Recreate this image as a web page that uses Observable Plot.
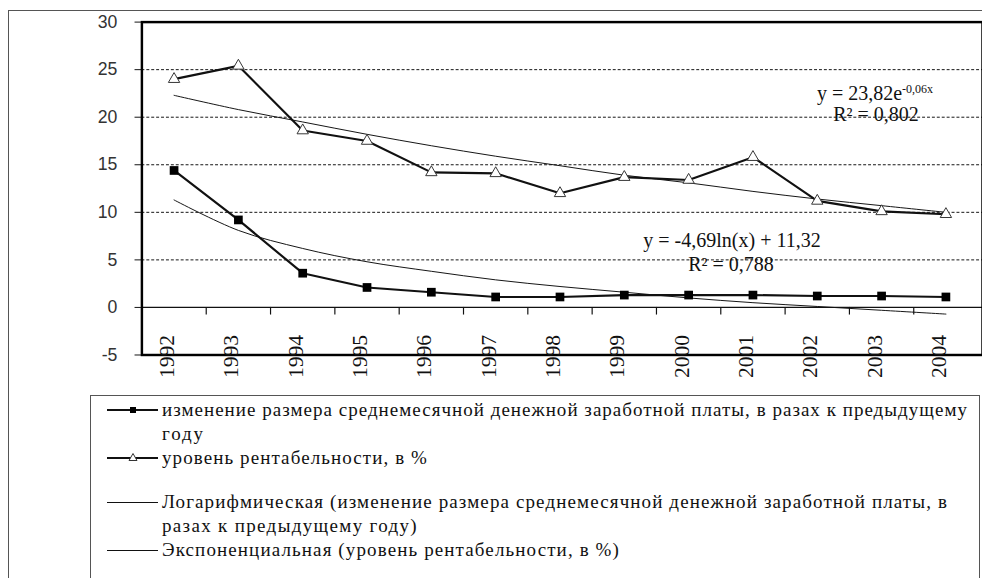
<!DOCTYPE html>
<html>
<head>
<meta charset="utf-8">
<script src="https://cdn.jsdelivr.net/npm/d3@7"></script>
<script src="https://cdn.jsdelivr.net/npm/@observablehq/plot@0.6"></script>
<style>
  html, body { margin: 0; padding: 0; background: #fff; overflow: hidden; }
  #wrap { position: relative; width: 982px; height: 578px; overflow: hidden; background: #fff; }
  #outer { position: absolute; left: 8px; top: 10px; width: 1100px; height: 700px; border: 1.5px solid #555; box-sizing: border-box; }
  #chart { position: absolute; left: 0; top: 0; }
  .ann { position: absolute; font-family: "Liberation Serif", "DejaVu Serif", "Times New Roman", serif; font-size: 20px; color: #111; white-space: nowrap; transform: translate(-50%, -50%); line-height: 20px; }
  .ann sup { font-size: 12px; vertical-align: 7px; line-height: 0; }
  #legend { position: absolute; left: 90px; top: 395px; width: 890px; height: 300px; border: 1.5px solid #555; box-sizing: border-box; }
  .lt { position: absolute; font-family: "Liberation Serif", "DejaVu Serif", "Times New Roman", serif; font-size: 19px; color: #111; white-space: nowrap; line-height: 18px; }
  .swl { position: absolute; left: 16px; width: 51px; background: #111; }
  .sw { position: absolute; display: block; }
</style>
</head>
<body>
<div id="wrap">
  <div id="outer"></div>
  <div id="chart"></div>
  <div class="ann" style="left:875px; top:93px;">y = 23,82e<sup>-0,06x</sup></div>
  <div class="ann" style="left:876px; top:114px;">R² = 0,802</div>
  <div class="ann" style="left:732px; top:240px;">y = -4,69ln(x) + 11,32</div>
  <div class="ann" style="left:731px; top:264px;">R² = 0,788</div>
  <div id="legend"></div>
</div>
<script>
const years = [1992, 1993, 1994, 1995, 1996, 1997, 1998, 1999, 2000, 2001, 2002, 2003, 2004];
const wageChange = [14.4, 9.2, 3.6, 2.1, 1.6, 1.1, 1.1, 1.3, 1.3, 1.3, 1.2, 1.2, 1.1];
const profitability = [24.0, 25.4, 18.6, 17.5, 14.2, 14.1, 12.0, 13.7, 13.4, 15.8, 11.2, 10.1, 9.8];
const logTrend = [11.3, 8.1, 6.2, 4.8, 3.8, 2.9, 2.2, 1.6, 1.0, 0.5, 0.1, -0.3, -0.7];
const expTrend = [22.3, 20.8, 19.5, 18.2, 17.0, 15.9, 14.9, 13.9, 13.1, 12.2, 11.4, 10.7, 10.0];
const yTicks = [-5, 0, 5, 10, 15, 20, 25, 30];
const gridValues = [5, 10, 15, 20, 25];
const legendLabels = [
  ["изменение размера среднемесячной денежной заработной платы, в разах к предыдущему", "году"],
  ["уровень рентабельности, в %"],
  ["Логарифмическая (изменение размера среднемесячной денежной заработной платы, в", "разах к предыдущему году)"],
  ["Экспоненциальная (уровень рентабельности, в %)"]
];

const SERIF = "Liberation Serif, DejaVu Serif, Times New Roman, serif";
const toRows = vals => years.map((year, i) => ({year, value: vals[i]}));
const wageRows = toRows(wageChange);
const profRows = toRows(profitability);
const logRows = toRows(logTrend);
const expRows = toRows(expTrend);

const W = 1000, H = 400, ML = 144, MT = 22, MB = 39;
const step = 65.5;
const xRange = [ML, ML + step * years.length];

const chart = Plot.plot({
  width: W,
  height: H,
  marginLeft: ML,
  marginRight: 0,
  marginTop: MT,
  marginBottom: MB,
  style: {background: "transparent", fontFamily: "Liberation Sans, sans-serif", fontSize: "18px", color: "#222"},
  x: {type: "point", domain: years, range: xRange, padding: 0.5, round: false, axis: null},
  y: {domain: [-5, 30], axis: null},
  marks: [
    Plot.ruleY(gridValues, {stroke: "#111", strokeWidth: 1, strokeDasharray: "3,2"}),
    Plot.ruleY([0], {stroke: "#111", strokeWidth: 1.2}),
    Plot.ruleX(years.slice(1), {x: d => d, y1: 0, y2: -0.8, dx: -step / 2, stroke: "#111", strokeWidth: 1.2}),
    Plot.axisY({ticks: yTicks, label: null, tickSize: 7, tickPadding: 18, tickFormat: d => String(d), fontSize: 18, fontFamily: "Liberation Sans, sans-serif", stroke: "#111", fill: "#333"}),
    Plot.line(expRows, {x: "year", y: "value", curve: "catmull-rom", stroke: "#111", strokeWidth: 1}),
    Plot.line(logRows, {x: "year", y: "value", curve: "catmull-rom", stroke: "#111", strokeWidth: 1}),
    Plot.line(profRows, {x: "year", y: "value", stroke: "#111", strokeWidth: 2.2}),
    Plot.line(wageRows, {x: "year", y: "value", stroke: "#111", strokeWidth: 2.2}),
    Plot.dot(wageRows, {x: "year", y: "value", symbol: "square", r: 5, fill: "#000", stroke: "none"}),
    Plot.dot(profRows, {x: "year", y: "value", symbol: "triangle", r: 4.3, fill: "#fff", stroke: "#333", strokeWidth: 1}),
    Plot.frame({stroke: "#000", strokeWidth: 2.5}),
    Plot.text(years, {x: d => d, frameAnchor: "bottom", text: d => String(d), rotate: -90, textAnchor: "middle", dy: 1.5, fontSize: 22, fontFamily: SERIF, fill: "#111"})
  ]
});
document.getElementById("chart").appendChild(chart);

// Legend
const legend = document.getElementById("legend");
const rowCenters = [[14, 38], [62], [106, 130], [154]];
const lineWidths = [[806, 43], [266], [786, 256], [458]];
const swatch = (kind, cy) => {
  const thick = kind < 2;
  const ln = document.createElement("div");
  ln.className = "swl";
  const h = thick ? 2 : 1;
  ln.style.height = h + "px";
  ln.style.top = (cy - h / 2) + "px";
  legend.appendChild(ln);
  if (kind < 2) {
    const s = document.createElementNS("http://www.w3.org/2000/svg", "svg");
    s.setAttribute("class", "sw");
    s.setAttribute("width", 14); s.setAttribute("height", 14);
    s.style.left = "35px"; s.style.top = (cy - 7) + "px";
    s.innerHTML = kind === 0
      ? `<rect x="4" y="4" width="6" height="6" fill="#000"/>`
      : `<path d="M7,2.5 L11,9.5 L3,9.5 Z" fill="#fff" stroke="#333" stroke-width="1"/>`;
    legend.appendChild(s);
  }
};
legendLabels.forEach((lines, k) => {
  swatch(k, rowCenters[k][0]);
  lines.forEach((txt, j) => {
    const sp = document.createElement("span");
    sp.className = "lt";
    sp.textContent = txt;
    sp.style.left = "71px";
    sp.style.top = (rowCenters[k][j] - 9) + "px";
    legend.appendChild(sp);
    const w = sp.getBoundingClientRect().width;
    sp.style.letterSpacing = ((lineWidths[k][j] - w) / txt.length) + "px";
  });
});
</script>
</body>
</html>
